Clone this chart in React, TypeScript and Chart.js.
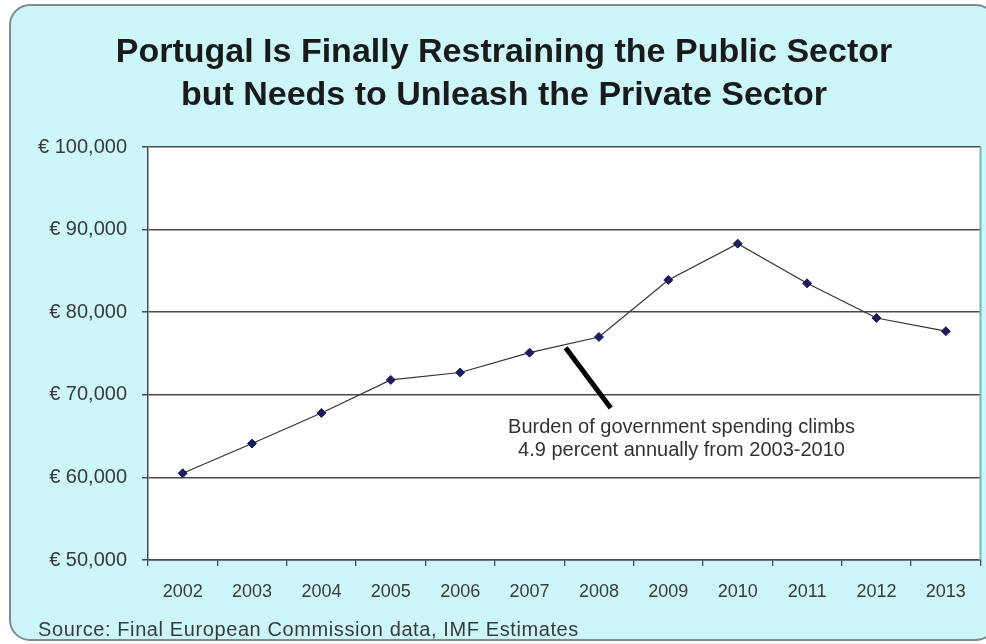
import React, { useEffect, useRef } from "react";
import { Chart, registerables } from "chart.js";

Chart.register(...registerables);

const years = ["2002", "2003", "2004", "2005", "2006", "2007", "2008", "2009", "2010", "2011", "2012", "2013"];
const spending = [60500, 64100, 67800, 71800, 72700, 75100, 77000, 83900, 88300, 83500, 79300, 77700];
const yTickValues = [50000, 60000, 70000, 80000, 90000, 100000];
const yTickLabels = ["€ 50,000", "€ 60,000", "€ 70,000", "€ 80,000", "€ 90,000", "€ 100,000"];
const titleLines = ["Portugal Is Finally Restraining the Public Sector", "but Needs to Unleash the Private Sector"];
const sourceText = "Source: Final European Commission data, IMF Estimates";
const noteLines = ["Burden of government spending climbs", "4.9 percent annually from 2003-2010"];
// annotation anchors in (category index, value) space
const notePointerStart = [5.52, 75700];
const notePointerEnd = [6.17, 68400];
const noteTextAnchor = [7.19, 65400];

const FONT = '"Liberation Sans", Arial, sans-serif';

const decorPlugin = {
  id: "decor",
  beforeDraw(chart: any) {
    const { ctx, width, height, chartArea } = chart;
    ctx.save();
    ctx.fillStyle = "#ffffff";
    ctx.fillRect(0, 0, width, height);
    ctx.beginPath();
    ctx.roundRect(10, 5, 986, 635, 20);
    ctx.fillStyle = "#ccf6fa";
    ctx.fill();
    ctx.lineWidth = 2;
    ctx.strokeStyle = "#7d8c8c";
    ctx.stroke();
    ctx.fillStyle = "#ffffff";
    ctx.fillRect(chartArea.left, chartArea.top, chartArea.right - chartArea.left, chartArea.bottom - chartArea.top);
    ctx.restore();
  },
  afterDraw(chart: any) {
    const { ctx, chartArea, scales } = chart;
    const xs = scales.x;
    const ys = scales.y;
    ctx.save();
    // plot right border
    ctx.strokeStyle = "#7fb3b3";
    ctx.lineWidth = 2;
    ctx.beginPath();
    ctx.moveTo(chartArea.right, chartArea.top);
    ctx.lineTo(chartArea.right, chartArea.bottom);
    ctx.stroke();

    // title
    ctx.fillStyle = "#1a1a1a";
    ctx.font = "bold 34px " + FONT;
    ctx.textAlign = "center";
    ctx.textBaseline = "alphabetic";
    ctx.fillText(titleLines[0], 504, 62);
    ctx.fillText(titleLines[1], 504, 105);

    // source
    ctx.fillStyle = "#3a3a3a";
    ctx.font = "20px " + FONT;
    ctx.textAlign = "left";
    (ctx as any).letterSpacing = "0.6px";
    ctx.fillText(sourceText, 38, 636);
    (ctx as any).letterSpacing = "0px";

    // annotation pointer
    ctx.strokeStyle = "#000000";
    ctx.lineWidth = 5;
    ctx.beginPath();
    ctx.moveTo(xs.getPixelForValue(notePointerStart[0]), ys.getPixelForValue(notePointerStart[1]));
    ctx.lineTo(xs.getPixelForValue(notePointerEnd[0]), ys.getPixelForValue(notePointerEnd[1]));
    ctx.stroke();

    // annotation text
    ctx.fillStyle = "#333333";
    ctx.font = "20px " + FONT;
    ctx.textAlign = "center";
    const tx = xs.getPixelForValue(noteTextAnchor[0]);
    const ty = ys.getPixelForValue(noteTextAnchor[1]);
    ctx.fillText(noteLines[0], tx, ty);
    ctx.fillText(noteLines[1], tx, ty + 23);
    ctx.restore();
  },
};

export default function App() {
  const canvasRef = useRef<HTMLCanvasElement | null>(null);

  useEffect(() => {
    document.body.style.margin = "0";
    const canvas = canvasRef.current;
    if (!canvas) return;
    const chart = new Chart(canvas, {
      type: "line",
      data: {
        labels: years,
        datasets: [
          {
            data: spending,
            borderColor: "#333333",
            borderWidth: 1.2,
            pointStyle: "rectRot",
            pointRadius: 4.5,
            pointBackgroundColor: "#1c1c5e",
            pointBorderColor: "#1c1c5e",
            pointBorderWidth: 1,
            tension: 0,
            fill: false,
          },
        ],
      },
      options: {
        responsive: false,
        animation: false,
        devicePixelRatio: 1,
        layout: { padding: { left: 0, top: 147, right: 3, bottom: 0 } },
        plugins: {
          legend: { display: false },
          title: { display: false },
          tooltip: { enabled: false },
        },
        scales: {
          x: {
            type: "category",
            offset: true,
            grid: {
              offset: true,
              drawOnChartArea: false,
              drawTicks: true,
              tickLength: 6,
              color: "#4a4a4a",
              lineWidth: 1.3,
            },
            border: { display: true, color: "#4a4a4a", width: 1.5 },
            ticks: {
              color: "#3a3a3a",
              font: { family: FONT, size: 18 },
              padding: 15,
              maxRotation: 0,
              autoSkip: false,
            },
            afterFit(scale: any) {
              scale.height = 84;
            },
          },
          y: {
            min: 50000,
            max: 100000,
            afterBuildTicks(scale: any) {
              scale.ticks = yTickValues.map((v) => ({ value: v }));
            },
            grid: {
              drawTicks: true,
              tickLength: 6,
              color: "#4a4a4a",
              lineWidth: 1.5,
            },
            border: { display: true, color: "#4a4a4a", width: 1.5 },
            ticks: {
              color: "#3a3a3a",
              font: { family: FONT, size: 20 },
              padding: 15,
              callback: (value: any) => {
                const i = yTickValues.indexOf(Number(value));
                return i >= 0 ? yTickLabels[i] : "";
              },
            },
            afterFit(scale: any) {
              scale.width = 148;
            },
          },
        },
      },
      plugins: [decorPlugin],
    } as any);
    return () => chart.destroy();
  }, []);

  return <canvas ref={canvasRef} width={986} height={644} style={{ display: "block" }} />;
}
